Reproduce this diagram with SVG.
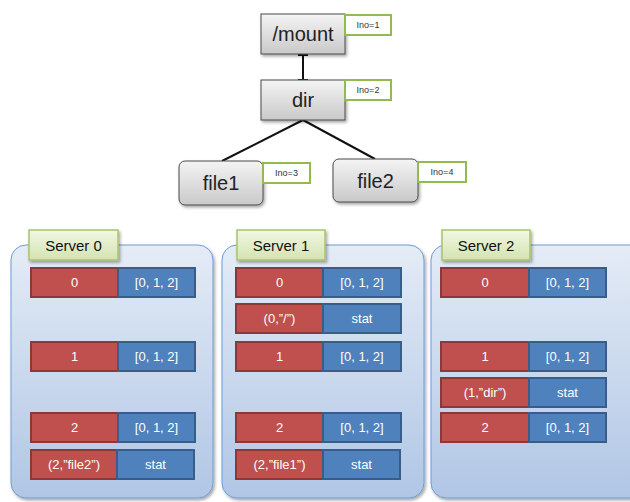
<svg xmlns="http://www.w3.org/2000/svg" width="630" height="502" viewBox="0 0 630 502">
<defs>
<linearGradient id="gGray" x1="0" y1="0" x2="0" y2="1"><stop offset="0" stop-color="#f4f4f4"/><stop offset="1" stop-color="#c9c9c9"/></linearGradient>
<linearGradient id="gPanel" x1="0" y1="0" x2="0" y2="1"><stop offset="0" stop-color="#e4ecf6"/><stop offset="1" stop-color="#b0c6e5"/></linearGradient>
<linearGradient id="gGreen" x1="0" y1="0" x2="0" y2="1"><stop offset="0" stop-color="#f2f7e4"/><stop offset="1" stop-color="#d4e3b0"/></linearGradient>
<filter id="sh" x="-10%" y="-10%" width="130%" height="130%"><feDropShadow dx="1.5" dy="2" stdDeviation="1.5" flood-color="#000" flood-opacity="0.35"/></filter>
</defs>
<style>
.node{fill:url(#gGray);stroke:#4a4a4a;stroke-width:1;filter:url(#sh)}
.nt{font-family:"Liberation Sans",Arial,sans-serif;font-size:20px;fill:#222;text-anchor:middle}
.ino{fill:#fff;stroke:#92bb4f;stroke-width:2}
.it{font-family:"Liberation Sans",Arial,sans-serif;font-size:9px;fill:#333;text-anchor:middle}
.panel{fill:url(#gPanel);stroke:#6f9bd6;stroke-width:1;filter:url(#sh)}
.slab{fill:url(#gGreen);stroke:#a9c46b;stroke-width:1.5;filter:url(#sh)}
.st{font-family:"Liberation Sans",Arial,sans-serif;font-size:15px;fill:#111;text-anchor:middle}
.r{fill:#c0504d;stroke:#8c3836;stroke-width:2}
.b{fill:#4f81bd;stroke:#385d8a;stroke-width:2}
.ct{font-family:"Liberation Sans",Arial,sans-serif;font-size:13px;fill:#fff;text-anchor:middle}
.ln{stroke:#111;stroke-width:2;fill:none}
</style>
<g id="connectors">
<line class="ln" x1="303" y1="54" x2="303" y2="80"/>
<line class="ln" x1="298" y1="55" x2="308" y2="55"/>
<line class="ln" x1="298" y1="80" x2="308" y2="80"/>
<line class="ln" x1="303" y1="120" x2="222" y2="161"/>
<line class="ln" x1="303" y1="120" x2="375" y2="159"/>
</g>
<g id="mount">
<rect class="node" x="261" y="14" width="84" height="40"/>
<text class="nt" x="303" y="41">/mount</text>
<rect class="ino" x="345" y="15" width="46" height="20"/>
<text class="it" x="368" y="28">Ino=1</text>
</g>
<g id="dir">
<rect class="node" x="261" y="80" width="84" height="40"/>
<text class="nt" x="303" y="107">dir</text>
<rect class="ino" x="345" y="80" width="46" height="20"/>
<text class="it" x="368" y="93">Ino=2</text>
</g>
<g id="file1">
<rect class="node" x="179" y="161" width="84" height="44" rx="6"/>
<text class="nt" x="221" y="190">file1</text>
<rect class="ino" x="263" y="163" width="47" height="20"/>
<text class="it" x="286.5" y="176">Ino=3</text>
</g>
<g id="file2">
<rect class="node" x="333" y="159" width="85" height="43" rx="6"/>
<text class="nt" x="375.5" y="188">file2</text>
<rect class="ino" x="418" y="162" width="48" height="20"/>
<text class="it" x="442" y="175">Ino=4</text>
</g>
<g id="server0">
<rect class="panel" x="11" y="245" width="202" height="253" rx="15"/>
<rect class="slab" x="29" y="230" width="89" height="30"/>
<text class="st" x="73.5" y="251">Server 0</text>
<rect class="r" x="31" y="268" width="87" height="29"/><rect class="b" x="118" y="268" width="77" height="29"/>
<text class="ct" x="74.5" y="287">0</text><text class="ct" x="156.5" y="287">[0, 1, 2]</text>
<rect class="r" x="31" y="342" width="87" height="29"/><rect class="b" x="118" y="342" width="77" height="29"/>
<text class="ct" x="74.5" y="361">1</text><text class="ct" x="156.5" y="361">[0, 1, 2]</text>
<rect class="r" x="31" y="413" width="87" height="29"/><rect class="b" x="118" y="413" width="77" height="29"/>
<text class="ct" x="74.5" y="432">2</text><text class="ct" x="156.5" y="432">[0, 1, 2]</text>
<rect class="r" x="31" y="450" width="86" height="29"/><rect class="b" x="117" y="450" width="77" height="29"/>
<text class="ct" x="74" y="469">(2,”file2”)</text><text class="ct" x="155.5" y="469">stat</text>
</g>
<g id="server1">
<rect class="panel" x="222" y="245" width="202" height="253" rx="15"/>
<rect class="slab" x="237" y="230" width="88" height="30"/>
<text class="st" x="281" y="251">Server 1</text>
<rect class="r" x="236" y="268" width="87" height="29"/><rect class="b" x="323" y="268" width="78" height="29"/>
<text class="ct" x="279.5" y="287">0</text><text class="ct" x="362" y="287">[0, 1, 2]</text>
<rect class="r" x="236" y="304" width="87" height="29"/><rect class="b" x="323" y="304" width="78" height="29"/>
<text class="ct" x="279.5" y="323">(0,”/”)</text><text class="ct" x="362" y="323">stat</text>
<rect class="r" x="236" y="342" width="87" height="29"/><rect class="b" x="323" y="342" width="78" height="29"/>
<text class="ct" x="279.5" y="361">1</text><text class="ct" x="362" y="361">[0, 1, 2]</text>
<rect class="r" x="236" y="413" width="87" height="29"/><rect class="b" x="323" y="413" width="78" height="29"/>
<text class="ct" x="279.5" y="432">2</text><text class="ct" x="362" y="432">[0, 1, 2]</text>
<rect class="r" x="236" y="450" width="87" height="29"/><rect class="b" x="323" y="450" width="77" height="29"/>
<text class="ct" x="279.5" y="469">(2,”file1”)</text><text class="ct" x="361.5" y="469">stat</text>
</g>
<g id="server2">
<rect class="panel" x="431" y="245" width="215" height="253" rx="15"/>
<rect class="slab" x="442" y="230" width="88" height="30"/>
<text class="st" x="486" y="251">Server 2</text>
<rect class="r" x="441" y="268" width="88" height="29"/><rect class="b" x="529" y="268" width="77" height="29"/>
<text class="ct" x="485" y="287">0</text><text class="ct" x="567.5" y="287">[0, 1, 2]</text>
<rect class="r" x="441" y="342" width="88" height="29"/><rect class="b" x="529" y="342" width="77" height="29"/>
<text class="ct" x="485" y="361">1</text><text class="ct" x="567.5" y="361">[0, 1, 2]</text>
<rect class="r" x="441" y="378" width="88" height="29"/><rect class="b" x="529" y="378" width="77" height="29"/>
<text class="ct" x="485" y="397">(1,”dir”)</text><text class="ct" x="567.5" y="397">stat</text>
<rect class="r" x="441" y="413" width="88" height="29"/><rect class="b" x="529" y="413" width="77" height="29"/>
<text class="ct" x="485" y="432">2</text><text class="ct" x="567.5" y="432">[0, 1, 2]</text>
</g>
</svg>
